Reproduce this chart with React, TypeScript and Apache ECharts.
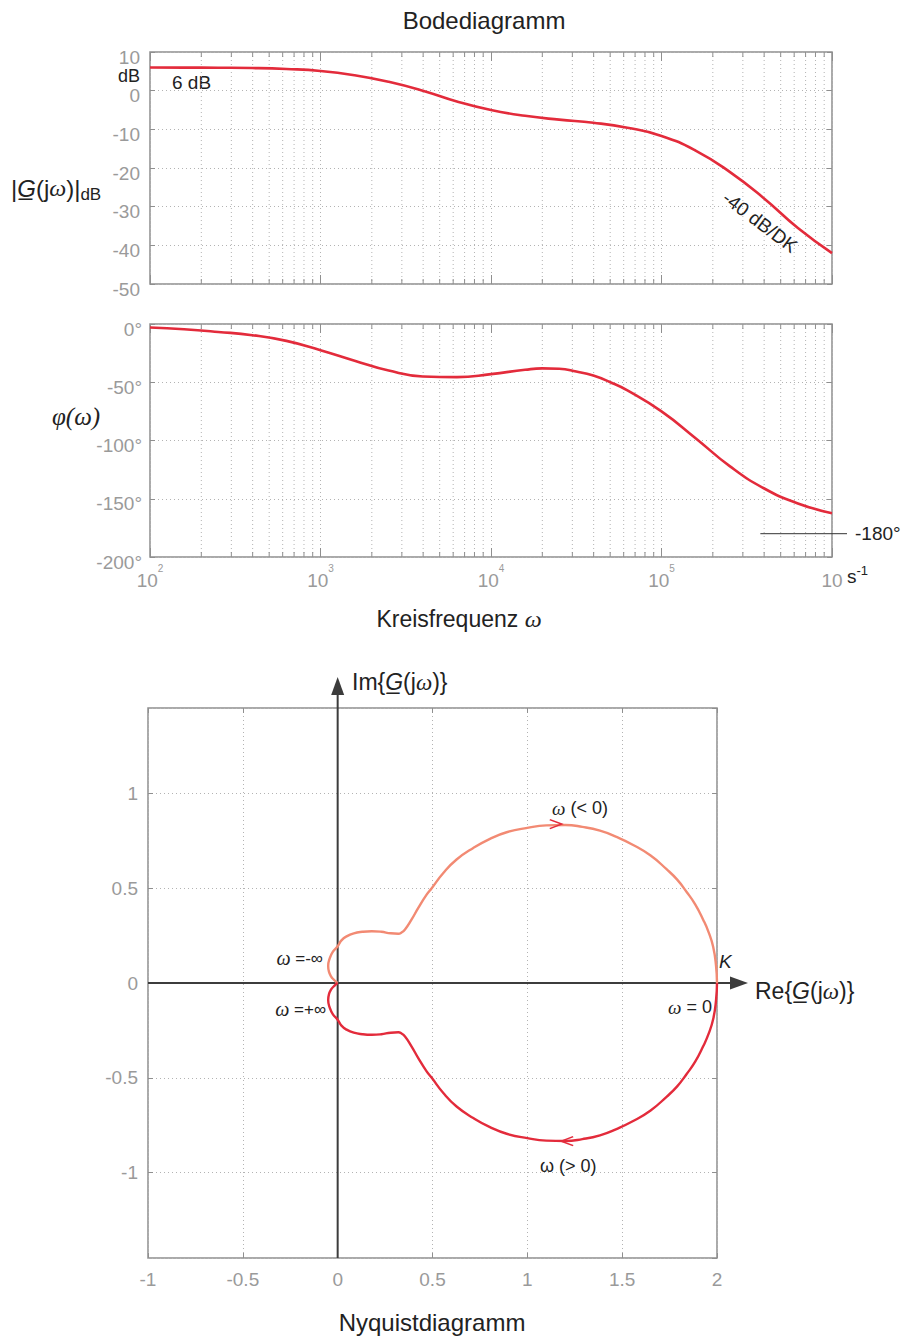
import React, { useEffect, useRef } from "react";
import * as echarts from "echarts";

// ---------- data ----------
// Bode magnitude: log10(omega) and |G| in dB
const magExp = [2.0, 2.2, 2.4, 2.6, 2.8, 3.0, 3.2, 3.4, 3.6, 3.8, 4.0, 4.2, 4.4, 4.6, 4.8, 5.0, 5.2, 5.4, 5.6, 5.8, 6.0];
const magDb = [6.0, 5.97, 5.93, 5.85, 5.6, 5.1, 4.0, 2.3, 0.0, -2.8, -5.0, -6.5, -7.5, -8.3, -9.6, -11.7, -15.5, -21.0, -27.8, -35.5, -42.0];
// Bode phase: log10(omega) and phase in degrees
const phaseExp = [2.0, 2.2, 2.4, 2.6, 2.8, 3.0, 3.2, 3.4, 3.6, 3.8, 4.0, 4.2, 4.3, 4.4, 4.5, 4.6, 4.7, 4.8, 5.0, 5.2, 5.4, 5.6, 5.8, 6.0];
const phaseDeg = [-3, -4.5, -6.8, -9.6, -14.5, -22.5, -31.5, -40, -45, -45.6, -43, -39.3, -38.1, -38.4, -40.8, -44.3, -50, -57, -75, -98, -122, -141, -154, -162.5];
// Nyquist: branch for omega > 0 (from omega = 0 to +inf); the omega < 0 branch is its mirror image
const nyqRe = [2.0, 1.995, 1.98, 1.955, 1.927, 1.885, 1.84, 1.79, 1.734, 1.65, 1.558, 1.47, 1.383, 1.29, 1.2, 1.1, 1.0, 0.891, 0.803, 0.715, 0.627, 0.557, 0.496, 0.469, 0.425, 0.39, 0.355, 0.335, 0.32, 0.28, 0.23, 0.18, 0.13, 0.085, 0.047, 0.02, 0.0, -0.025, -0.042, -0.05, -0.046, -0.035, -0.02, -0.008, 0];
const nyqIm = [0, -0.09, -0.19, -0.27, -0.334, -0.415, -0.48, -0.545, -0.6, -0.672, -0.728, -0.77, -0.803, -0.823, -0.833, -0.831, -0.818, -0.795, -0.76, -0.712, -0.651, -0.58, -0.5, -0.466, -0.396, -0.335, -0.282, -0.265, -0.26, -0.262, -0.27, -0.273, -0.27, -0.262, -0.246, -0.225, -0.194, -0.165, -0.13, -0.09, -0.06, -0.035, -0.017, -0.006, 0];
// direction arrows on the Nyquist curve
const arrowRe = [1.15, 1.21];
const arrowIm = [0.838, -0.834];
// grid helpers
const decadeStarts = [1e2, 1e3, 1e4, 1e5];
const minorFactors = [2, 3, 4, 5, 6, 7, 8, 9];
const phaseRefStart = 3.8e5; // start of the -180° reference line
const phaseRefValue = -180;

// ---------- styles ----------
const sans = '"Liberation Sans", Arial, Helvetica, sans-serif';
const serif = '"Liberation Serif", "Times New Roman", serif';
const red = "#e32b3b";
const salmon = "#f28a73";
const gray = "#9a9a9a";
const frame = "#8f8f8f";
const ink = "#222222";
const axisDark = "#3c3c3c";
const dotted = { type: [1, 3] as any, color: "#b3b3b3", width: 1 };

const minorOmega: number[] = [];
decadeStarts.forEach((d) => minorFactors.forEach((f) => minorOmega.push(f * d)));

const minorRender = (params: any, api: any) => {
  const cs = params.coordSys;
  const px = api.coord([api.value(0), api.value(1)])[0];
  return {
    type: "group",
    children: [
      { type: "line", shape: { x1: px, y1: cs.y, x2: px, y2: cs.y + cs.height }, style: { stroke: "#b3b3b3", lineWidth: 1, lineDash: [1, 3] } },
      { type: "line", shape: { x1: px, y1: cs.y + cs.height, x2: px, y2: cs.y + cs.height - 5 }, style: { stroke: frame, lineWidth: 1 } },
      { type: "line", shape: { x1: px, y1: cs.y, x2: px, y2: cs.y + 5 }, style: { stroke: frame, lineWidth: 1 } },
    ],
  };
};

const nyqAxesRender = (params: any, api: any) => {
  const cs = params.coordSys;
  const o = api.coord([api.value(0), api.value(1)]);
  const right = cs.x + cs.width + 31;
  const top = cs.y - 31;
  return {
    type: "group",
    children: [
      { type: "line", shape: { x1: cs.x, y1: o[1], x2: right - 12, y2: o[1] }, style: { stroke: axisDark, lineWidth: 2 } },
      { type: "polygon", shape: { points: [[right, o[1]], [right - 18, o[1] - 6.5], [right - 18, o[1] + 6.5]] }, style: { fill: axisDark } },
      { type: "line", shape: { x1: o[0], y1: cs.y + cs.height, x2: o[0], y2: top + 12 }, style: { stroke: axisDark, lineWidth: 2 } },
      { type: "polygon", shape: { points: [[o[0], top], [o[0] - 6.5, top + 18], [o[0] + 6.5, top + 18]] }, style: { fill: axisDark } },
    ],
  };
};

const refLineRender = (params: any, api: any) => {
  const cs = params.coordSys;
  const p = api.coord([api.value(0), api.value(1)]);
  const end = cs.x + cs.width + 15;
  return {
    type: "group",
    children: [
      { type: "line", shape: { x1: p[0], y1: p[1], x2: end, y2: p[1] }, style: { stroke: "#333", lineWidth: 1 } },
      { type: "text", x: end + 8, y: p[1], style: { text: "-180°", fill: ink, fontSize: 19, fontFamily: sans, align: "left", verticalAlign: "middle" } },
    ],
  };
};

const expLabel = (v: number) => {
  const e = Math.round(Math.log10(v));
  return e === 6 ? "{b|10}" : `{b|10}{e|${e}}`;
};

const logAxis = (gridIndex: number, position: "bottom" | "top", labels: boolean) => ({
  type: "log",
  logBase: 10,
  gridIndex,
  position,
  min: 100,
  max: 1e6,
  axisLine: { show: false, onZero: false },
  axisTick: { show: true, inside: true, length: 9, lineStyle: { color: frame } },
  splitLine: { show: position === "bottom", lineStyle: dotted },
  axisLabel: labels
    ? {
        show: true,
        margin: 6,
        formatter: expLabel,
        rich: {
          b: { fontSize: 19, color: gray, fontFamily: sans, lineHeight: 34 },
          e: { fontSize: 10, color: gray, fontFamily: sans, padding: [0, 0, 24, 0] },
        },
      }
    : { show: false },
});

const valAxis = (gridIndex: number, position: string, extra: any, labels: any) => ({
  type: "value",
  gridIndex,
  position,
  axisLine: { show: false, onZero: false },
  axisTick: { show: true, inside: true, length: 5, lineStyle: { color: frame } },
  splitLine: { show: position === "left" || position === "bottom", lineStyle: dotted },
  axisLabel: labels ? { color: gray, fontSize: 19, fontFamily: sans, ...labels } : { show: false },
  ...extra,
});

const option: any = {
  animation: false,
  backgroundColor: "#ffffff",
  textStyle: { fontFamily: sans },
  grid: [
    { left: 150, top: 52, width: 682, height: 232, show: true, borderColor: frame, borderWidth: 1.5 },
    { left: 150, top: 324, width: 682, height: 233, show: true, borderColor: frame, borderWidth: 1.5 },
    { left: 148, top: 708, width: 569, height: 550, show: true, borderColor: frame, borderWidth: 1.5 },
  ],
  xAxis: [
    logAxis(0, "bottom", false),
    logAxis(0, "top", false),
    logAxis(1, "bottom", true),
    logAxis(1, "top", false),
    valAxis(2, "bottom", { min: -1, max: 2, interval: 0.5 }, { margin: 12 }),
    valAxis(2, "top", { min: -1, max: 2, interval: 0.5 }, null),
  ],
  yAxis: [
    valAxis(0, "left", { min: -50, max: 10, interval: 10 }, { margin: 10, verticalAlign: "top", lineHeight: 10 }),
    valAxis(0, "right", { min: -50, max: 10, interval: 10 }, null),
    valAxis(1, "left", { min: -200, max: 0, interval: 50 }, { margin: 8, verticalAlign: "top", lineHeight: 10, formatter: (v: number) => `${v}°` }),
    valAxis(1, "right", { min: -200, max: 0, interval: 50 }, null),
    valAxis(2, "left", { min: -1.45, max: 1.45, splitNumber: 6 }, { margin: 10, showMinLabel: false, showMaxLabel: false }),
    valAxis(2, "right", { min: -1.45, max: 1.45, splitNumber: 6 }, null),
  ],
  series: [
    { type: "custom", xAxisIndex: 0, yAxisIndex: 0, silent: true, renderItem: minorRender, data: minorOmega.map((v) => [v, 0]), z: 1 },
    { type: "custom", xAxisIndex: 2, yAxisIndex: 2, silent: true, renderItem: minorRender, data: minorOmega.map((v) => [v, -100]), z: 1 },
    {
      type: "line", xAxisIndex: 0, yAxisIndex: 0, silent: true, showSymbol: false, smooth: 0.5, z: 5,
      lineStyle: { color: red, width: 2.6 },
      data: magExp.map((e, i) => [Math.pow(10, e), magDb[i]]),
    },
    {
      type: "line", xAxisIndex: 2, yAxisIndex: 2, silent: true, showSymbol: false, smooth: 0.5, z: 5,
      lineStyle: { color: red, width: 2.6 },
      data: phaseExp.map((e, i) => [Math.pow(10, e), phaseDeg[i]]),
    },
    { type: "custom", xAxisIndex: 2, yAxisIndex: 2, silent: true, renderItem: refLineRender, data: [[phaseRefStart, phaseRefValue]], z: 4 },
    { type: "custom", xAxisIndex: 4, yAxisIndex: 4, silent: true, renderItem: nyqAxesRender, data: [[0, 0]], z: 3 },
    {
      type: "line", xAxisIndex: 4, yAxisIndex: 4, silent: true, showSymbol: false, smooth: 0.5, z: 5,
      lineStyle: { color: salmon, width: 2.4 },
      data: nyqRe.map((r, i) => [r, -nyqIm[i]]),
    },
    {
      type: "line", xAxisIndex: 4, yAxisIndex: 4, silent: true, showSymbol: false, smooth: 0.5, z: 6,
      lineStyle: { color: red, width: 2.4 },
      data: nyqRe.map((r, i) => [r, nyqIm[i]]),
    },
    {
      type: "scatter", xAxisIndex: 4, yAxisIndex: 4, silent: true, z: 7,
      symbol: "path://M0,0L12,5L0,10",
      symbolSize: [12, 9],
      symbolRotate: (v: number[]) => (v[1] > 0 ? 0 : 180),
      itemStyle: { color: "transparent", borderColor: red, borderWidth: 1.6, opacity: 1 },
      data: arrowRe.map((r, i) => [r, arrowIm[i]]),
    },
  ],
  graphic: [
    { type: "text", x: 484, y: 20, style: { text: "Bodediagramm", fontSize: 24, fontFamily: sans, fill: ink, align: "center", verticalAlign: "middle" } },
    { type: "text", x: 140, y: 75.5, style: { text: "dB", fontSize: 18, fontFamily: sans, fill: ink, align: "right", verticalAlign: "middle" } },
    { type: "text", x: 172, y: 82, style: { text: "6 dB", fontSize: 19, fontFamily: sans, fill: ink, align: "left", verticalAlign: "middle" } },
    { type: "text", x: 760, y: 222, rotation: (-37 * Math.PI) / 180, style: { text: "-40 dB/DK", fontSize: 19, fontFamily: sans, fill: ink, align: "center", verticalAlign: "middle" } },
    {
      type: "text", x: 11, y: 188,
      style: {
        text: "|{g|G\u0332}(j{w|ω})|{s|dB}", fontSize: 24, fontFamily: sans, fill: ink, align: "left", verticalAlign: "middle",
        rich: {
          g: { fontSize: 24, fontFamily: sans, fontStyle: "italic", fill: ink },
          w: { fontSize: 24, fontFamily: serif, fontStyle: "italic", fill: ink },
          s: { fontSize: 17, fontFamily: sans, fill: ink, padding: [12, 0, 0, 0] },
        },
      },
    },
    { type: "text", x: 52, y: 416, style: { text: "φ(ω)", fontSize: 25, fontFamily: serif, fontStyle: "italic", fill: ink, align: "left", verticalAlign: "middle" } },
    {
      type: "text", x: 847, y: 576,
      style: {
        text: "{s|s}{e|-1}", align: "left", verticalAlign: "middle",
        rich: {
          s: { fontSize: 19, fontFamily: sans, fill: ink, lineHeight: 26 },
          e: { fontSize: 13, fontFamily: sans, fill: ink, padding: [0, 0, 12, 0] },
        },
      },
    },
    {
      type: "text", x: 459, y: 619,
      style: {
        text: "Kreisfrequenz {w|ω}", fontSize: 23, fontFamily: sans, fill: ink, align: "center", verticalAlign: "middle",
        rich: { w: { fontSize: 24, fontFamily: serif, fontStyle: "italic", fill: ink } },
      },
    },
    {
      type: "text", x: 352, y: 682,
      style: {
        text: "Im{{g|G\u0332}(j{w|ω})}", fontSize: 23, fontFamily: sans, fill: ink, align: "left", verticalAlign: "middle",
        rich: {
          g: { fontSize: 23, fontFamily: sans, fontStyle: "italic", fill: ink },
          w: { fontSize: 23, fontFamily: serif, fontStyle: "italic", fill: ink },
        },
      },
    },
    {
      type: "text", x: 755, y: 991,
      style: {
        text: "Re{{g|G\u0332}(j{w|ω})}", fontSize: 23, fontFamily: sans, fill: ink, align: "left", verticalAlign: "middle",
        rich: {
          g: { fontSize: 23, fontFamily: sans, fontStyle: "italic", fill: ink },
          w: { fontSize: 23, fontFamily: serif, fontStyle: "italic", fill: ink },
        },
      },
    },
    {
      type: "text", x: 552, y: 808,
      style: {
        text: "{w|ω} (< 0)", fontSize: 18, fontFamily: sans, fill: ink, align: "left", verticalAlign: "middle",
        rich: { w: { fontSize: 19, fontFamily: serif, fontStyle: "italic", fill: ink } },
      },
    },
    { type: "text", x: 540, y: 1166, style: { text: "ω (> 0)", fontSize: 18, fontFamily: sans, fill: ink, align: "left", verticalAlign: "middle" } },
    {
      type: "text", x: 323, y: 958,
      style: {
        text: "{w|ω} =-∞", fontSize: 17, fontFamily: sans, fill: ink, align: "right", verticalAlign: "middle",
        rich: { w: { fontSize: 20, fontFamily: serif, fontStyle: "italic", fill: ink } },
      },
    },
    {
      type: "text", x: 326, y: 1009,
      style: {
        text: "{w|ω} =+∞", fontSize: 17, fontFamily: sans, fill: ink, align: "right", verticalAlign: "middle",
        rich: { w: { fontSize: 20, fontFamily: serif, fontStyle: "italic", fill: ink } },
      },
    },
    { type: "text", x: 719, y: 961, style: { text: "K", fontSize: 19, fontFamily: sans, fontStyle: "italic", fill: ink, align: "left", verticalAlign: "middle" } },
    {
      type: "text", x: 712, y: 1007,
      style: {
        text: "{w|ω} = 0", fontSize: 18, fontFamily: sans, fill: ink, align: "right", verticalAlign: "middle",
        rich: { w: { fontSize: 19, fontFamily: serif, fontStyle: "italic", fill: ink } },
      },
    },
    { type: "text", x: 432, y: 1322, style: { text: "Nyquistdiagramm", fontSize: 24, fontFamily: sans, fill: ink, align: "center", verticalAlign: "middle" } },
  ],
};

export default function App() {
  const ref = useRef<HTMLDivElement>(null);
  useEffect(() => {
    document.body.style.margin = "0";
    const chart = echarts.init(ref.current as HTMLDivElement, null, { renderer: "svg" });
    chart.setOption(option);
    return () => chart.dispose();
  }, []);
  return <div ref={ref} style={{ width: 906, height: 1336 }} />;
}
